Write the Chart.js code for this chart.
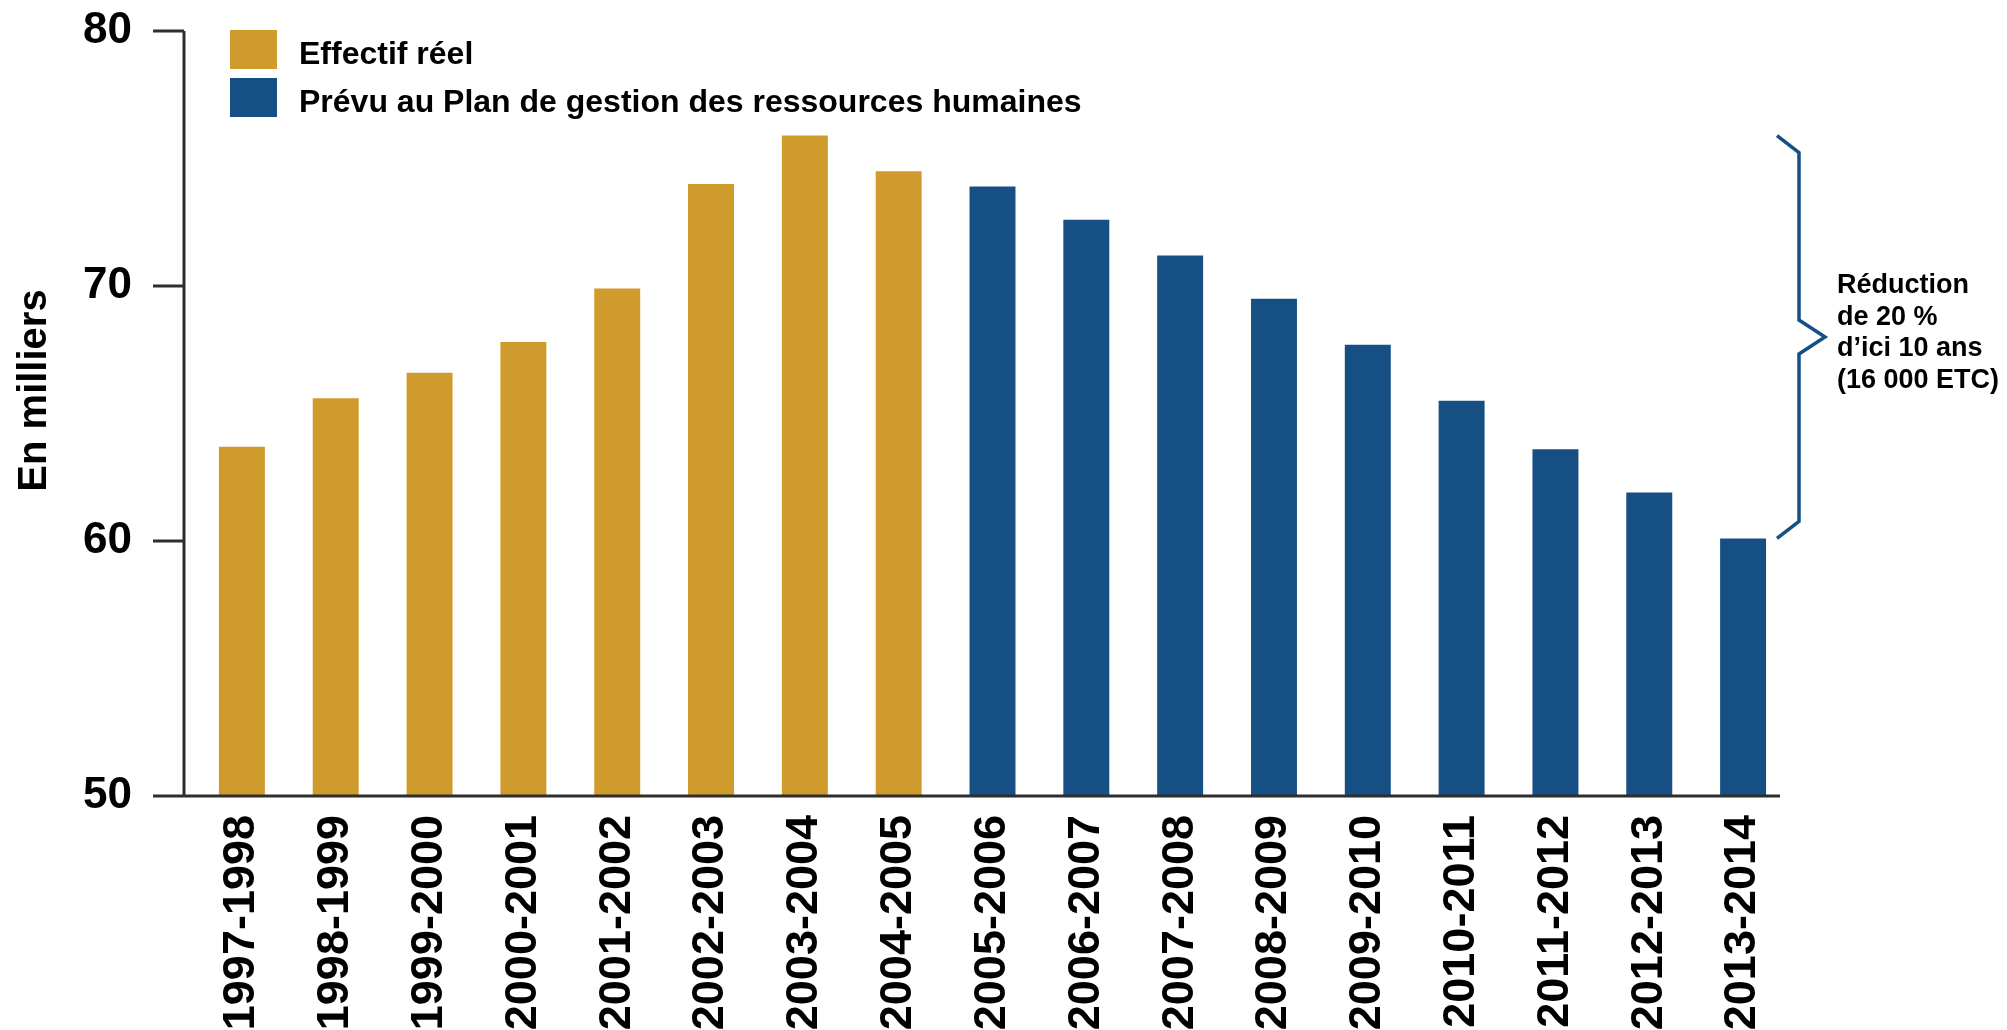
<!DOCTYPE html>
<html lang="fr">
<head>
<meta charset="utf-8">
<title>Effectif réel et prévu</title>
<script src="https://cdn.jsdelivr.net/npm/chart.js@4.4.1/dist/chart.umd.min.js"></script>
<style>
  html, body { margin: 0; padding: 0; background: #fff; }
  canvas { display: block; }
</style>
</head>
<body>
<canvas id="effectifChart" width="2007" height="1030"></canvas>
<script>
// values, in thousands
const periods = ['1997-1998', '1998-1999', '1999-2000', '2000-2001', '2001-2002', '2002-2003',
  '2003-2004', '2004-2005', '2005-2006', '2006-2007', '2007-2008', '2008-2009', '2009-2010',
  '2010-2011', '2011-2012', '2012-2013', '2013-2014'];
const actual = [63.7, 65.6, 66.6, 67.8, 69.9, 74.0, 75.9, 74.5];
const planned = [73.9, 72.6, 71.2, 69.5, 67.7, 65.5, 63.6, 61.9, 60.1];
const yTicks = [50, 60, 70, 80];

const actualLabel = 'Effectif réel';
const plannedLabel = 'Prévu au Plan de gestion des ressources humaines';
const yTitle = 'En milliers';
const braceNote = ['Réduction', 'de 20 %', 'd’ici 10 ans', '(16 000 ETC)'];

const gold = '#cf9b2c';
const blue = '#164f84';
const ink = '#000000';
const axisInk = '#2e2e2e';
const family = '"Liberation Sans", Arial, sans-serif';

// pad both series so they share one category axis
const actualData = periods.map((p, i) => (i < actual.length ? actual[i] : null));
const plannedData = periods.map((p, i) => (i >= actual.length ? planned[i - actual.length] : null));

const ctx = document.getElementById('effectifChart');

// axis lines, legend, y title and the brace note
const decorations = {
	id: 'decorations',
	afterDatasetsDraw(chart) {
		const c = chart.ctx;
		const area = chart.chartArea;
		const y = chart.scales.y;
		const axisX = area.left - 11;
		const tickStart = area.left - 42;

		c.save();
		c.strokeStyle = axisInk;
		c.lineWidth = 3;
		c.beginPath();
		c.moveTo(axisX, area.top);
		c.lineTo(axisX, area.bottom);
		yTicks.forEach(v => {
			const py = y.getPixelForValue(v);
			c.moveTo(tickStart, py);
			c.lineTo(axisX, py);
		});
		c.moveTo(tickStart, area.bottom);
		c.lineTo(area.right - 10, area.bottom);
		c.stroke();

		// legend
		c.font = 'bold 32px ' + family;
		c.textAlign = 'left';
		c.textBaseline = 'alphabetic';
		chart.data.datasets.forEach((ds, i) => {
			const boxY = area.top - 1 + i * 48;
			c.fillStyle = ds.backgroundColor;
			c.fillRect(area.left + 35, boxY, 47, 39);
			c.fillStyle = ink;
			c.fillText(ds.label, area.left + 104, boxY + 34);
		});

		// y title
		c.save();
		c.translate(area.left - 160, (area.top + area.bottom) / 2 - 23);
		c.rotate(-Math.PI / 2);
		c.font = 'bold 40px ' + family;
		c.textAlign = 'center';
		c.textBaseline = 'middle';
		c.fillStyle = ink;
		c.fillText(yTitle, 0, 0);
		c.restore();

		// brace from the peak down to the last planned year
		const topY = y.getPixelForValue(Math.max(...actual));
		const botY = y.getPixelForValue(planned[planned.length - 1]);
		const midY = (topY + botY) / 2;
		const tipX = area.right - 13;
		const spineX = area.right + 9;
		const pointX = area.right + 35;
		c.strokeStyle = blue;
		c.lineWidth = 3.5;
		c.lineJoin = 'miter';
		c.beginPath();
		c.moveTo(tipX, topY);
		c.lineTo(spineX, topY + 17);
		c.lineTo(spineX, midY - 17);
		c.lineTo(pointX, midY);
		c.lineTo(spineX, midY + 17);
		c.lineTo(spineX, botY - 17);
		c.lineTo(tipX, botY);
		c.stroke();

		c.font = 'bold 27px ' + family;
		c.fillStyle = ink;
		braceNote.forEach((line, i) => {
			c.fillText(line, area.right + 47, midY - 44 + i * 31.5);
		});
		c.restore();
	}
};

new Chart(ctx, {
	type: 'bar',
	data: {
		labels: periods,
		datasets: [{
			label: actualLabel,
			data: actualData,
			backgroundColor: gold
		}, {
			label: plannedLabel,
			data: plannedData,
			backgroundColor: blue
		}]
	},
	options: {
		responsive: false,
		animation: false,
		layout: { padding: { top: 31, right: 217, left: 0, bottom: 0 } },
		plugins: {
			legend: { display: false },
			tooltip: { enabled: false }
		},
		datasets: {
			bar: { grouped: false, categoryPercentage: 1, barPercentage: 0.49 }
		},
		scales: {
			x: {
				grid: { display: false, drawTicks: false },
				border: { display: false },
				ticks: {
					autoSkip: false,
					minRotation: 90,
					maxRotation: 90,
					padding: 19,
					color: ink,
					font: { family: family, size: 45, weight: 'bold' }
				},
				afterFit(scale) { scale.height = 234; }
			},
			y: {
				min: 50,
				max: 80,
				grid: { display: false, drawTicks: false },
				border: { display: false },
				afterBuildTicks(scale) { scale.ticks = yTicks.map(v => ({ value: v })); },
				ticks: {
					padding: 63,
					color: ink,
					font: { family: family, size: 44, weight: 'bold' }
				},
				afterFit(scale) {
					scale.width = 195;
					// the big tick padding should not push the plot down
					scale.paddingTop = 0;
					scale.paddingBottom = 0;
				}
			}
		}
	},
	plugins: [decorations]
});
</script>
</body>
</html>
